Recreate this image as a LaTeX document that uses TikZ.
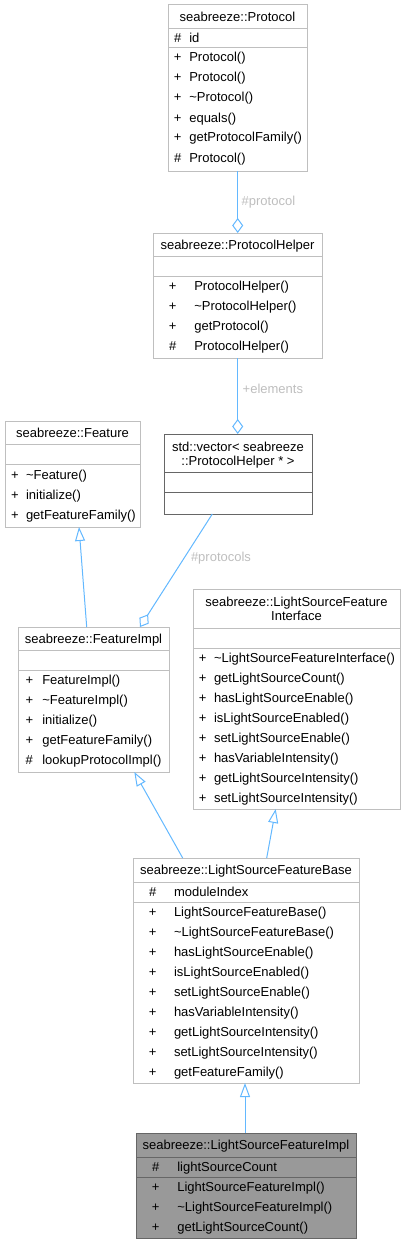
\documentclass[tikz,border=0pt]{standalone}
\usepackage{fontspec}
\setmainfont{Liberation Sans}
\usetikzlibrary{arrows.meta,calc}
\definecolor{edgec}{HTML}{63B8FF}
\definecolor{lightbd}{HTML}{BFBFBF}
\definecolor{darkbd}{HTML}{666666}
\definecolor{lblc}{HTML}{BEBEBE}
\definecolor{implfill}{HTML}{999999}
\newcommand\umlrows[5]{%
  \foreach \s/\t [count=\i] in {#5} {
    \node[txt,anchor=base] (#1s\i) at (#2,{#4+20*(\i-1)}) {\s};
    \node[txt,anchor=base west] (#1n\i) at (#3,{#4+20*(\i-1)}) {\t};
  }}
\begin{document}
\begin{tikzpicture}[x=1pt,y=-1pt,
  box/.style={draw=lightbd,fill=white,line width=1pt,rectangle,inner sep=0pt,outer sep=0pt,anchor=north west},
  darkbox/.style={box,draw=darkbd},
  sepl/.style={draw=lightbd,line width=1pt},
  darksepl/.style={draw=darkbd,line width=1pt},
  txt/.style={inner sep=0pt,outer sep=0pt,font=\fontsize{13}{14}\selectfont,text=black},
  ttl/.style={txt,anchor=base,align=center},
  lbl/.style={txt,anchor=base west,text=lblc},
  edge/.style={draw=edgec,line width=1pt},
  inh/.style={edge,-{Triangle[open,fill=white,length=14pt,width=10pt]}},
  agg/.style={edge,-{Diamond[open,fill=white,length=15pt,width=11pt]}}
]
\useasboundingbox (0,0) rectangle (405,1244);

% ---------- seabreeze::Protocol
\node[box,minimum width=139pt,minimum height=166pt] (prot) at (168,5) {};
\draw[sepl] (168,28.5) -- (307,28.5);
\draw[sepl] (168,48) -- (307,48);
\node[ttl] (protT) at (237.5,21.2) {seabreeze::Protocol};
\umlrows{pa}{177.7}{189.3}{42.5}{\#/id}
\umlrows{pm}{177.7}{189.3}{62}{+/Protocol(),+/Protocol(),+/\textasciitilde Protocol(),+/equals(),+/getProtocolFamily(),\#/Protocol()}

% ---------- seabreeze::ProtocolHelper
\node[box,minimum width=169pt,minimum height=125pt] (ph) at (153,233) {};
\draw[sepl] (153,256) -- (322,256);
\draw[sepl] (153,276) -- (322,276);
\node[ttl] (phT) at (237.5,249) {seabreeze::ProtocolHelper};
\umlrows{phm}{172.7}{194.3}{290.5}{+/ProtocolHelper(),+/\textasciitilde ProtocolHelper(),+/getProtocol(),\#/ProtocolHelper()}

% ---------- std::vector
\node[darkbox,minimum width=148pt,minimum height=80pt] (vec) at (164,434) {};
\draw[darksepl] (164,472) -- (312,472);
\draw[darksepl] (164,492) -- (312,492);
\node[ttl] (vecT1) at (238,451.2) {std::vector< seabreeze};
\node[ttl] (vecT2) at (238,465.2) {::ProtocolHelper * >};

% ---------- seabreeze::Feature
\node[box,minimum width=135pt,minimum height=106pt] (feat) at (5,421) {};
\draw[sepl] (5,444.5) -- (140,444.5);
\draw[sepl] (5,464.5) -- (140,464.5);
\node[ttl] (featT) at (72.5,437.2) {seabreeze::Feature};
\umlrows{fm}{15}{26}{479}{+/\textasciitilde Feature(),+/initialize(),+/getFeatureFamily()}

% ---------- seabreeze::FeatureImpl
\node[box,minimum width=151pt,minimum height=145pt] (fimpl) at (18,627) {};
\draw[sepl] (18,650) -- (169,650);
\draw[sepl] (18,670) -- (169,670);
\node[ttl] (fimplT) at (93.5,643) {seabreeze::FeatureImpl};
\umlrows{fim}{29.3}{42.3}{684.5}{+/FeatureImpl(),+/\textasciitilde FeatureImpl(),+/initialize(),+/getFeatureFamily(),\#/lookupProtocolImpl()}

% ---------- seabreeze::LightSourceFeatureInterface
\node[box,minimum width=207pt,minimum height=220pt] (lsfi) at (193,589) {};
\draw[sepl] (193,628) -- (400,628);
\draw[sepl] (193,648) -- (400,648);
\node[ttl] (lsfiT1) at (296.5,606.2) {seabreeze::LightSourceFeature};
\node[ttl] (lsfiT2) at (296.5,620.2) {Interface};
\umlrows{lim}{202.7}{214}{662.5}{+/\textasciitilde LightSourceFeatureInterface(),+/getLightSourceCount(),+/hasLightSourceEnable(),+/isLightSourceEnabled(),+/setLightSourceEnable(),+/hasVariableIntensity(),+/getLightSourceIntensity(),+/setLightSourceIntensity()}

% ---------- seabreeze::LightSourceFeatureBase
\node[box,minimum width=226pt,minimum height=225pt] (lsfb) at (133,858) {};
\draw[sepl] (133,882) -- (359,882);
\draw[sepl] (133,902) -- (359,902);
\node[ttl] (lsfbT) at (246,874.5) {seabreeze::LightSourceFeatureBase};
\umlrows{lba}{152.7}{174}{896.5}{\#/moduleIndex}
\umlrows{lbm}{152.7}{174}{916.5}{+/LightSourceFeatureBase(),+/\textasciitilde LightSourceFeatureBase(),+/hasLightSourceEnable(),+/isLightSourceEnabled(),+/setLightSourceEnable(),+/hasVariableIntensity(),+/getLightSourceIntensity(),+/setLightSourceIntensity(),+/getFeatureFamily()}

% ---------- seabreeze::LightSourceFeatureImpl
\node[darkbox,fill=implfill,minimum width=220pt,minimum height=105pt] (lsimp) at (136,1133) {};
\draw[darksepl] (136,1157) -- (356,1157);
\draw[darksepl] (136,1177) -- (356,1177);
\node[ttl] (lsimpT) at (246,1149.5) {seabreeze::LightSourceFeatureImpl};
\umlrows{lsa}{155.7}{177.3}{1171.5}{\#/lightSourceCount}
\umlrows{lsm}{155.7}{177.3}{1191.5}{+/LightSourceFeatureImpl(),+/\textasciitilde LightSourceFeatureImpl(),+/getLightSourceCount()}

% ---------- connectors
\draw[agg] ($(prot.south west)+(69.7,0)$) -- ($(ph.north west)+(84.7,0)$);
\node[lbl] (l1) at (241.7,205.2) {\#protocol};
\draw[agg] ($(ph.south west)+(84.7,0)$) -- ($(vec.north west)+(73.7,0)$);
\node[lbl] (l2) at (242.7,393.5) {+elements};
\draw[agg] ($(vec.south west)+(48.3,0)$) -- ($(fimpl.north west)+(122,0)$);
\node[lbl] (l3) at (191,561.8) {\#protocols};
\draw[inh] ($(fimpl.north west)+(68.7,0)$) -- ($(feat.south west)+(74,0)$);
\draw[inh] ($(lsfb.north west)+(49.7,0)$) -- ($(fimpl.south west)+(116.3,0)$);
\draw[inh] ($(lsfb.north west)+(133.7,0)$) -- ($(lsfi.south west)+(82.7,0)$);
\draw[inh] ($(lsimp.north west)+(109,0)$) -- ($(lsfb.south west)+(112,0)$);
\end{tikzpicture}
\end{document}
